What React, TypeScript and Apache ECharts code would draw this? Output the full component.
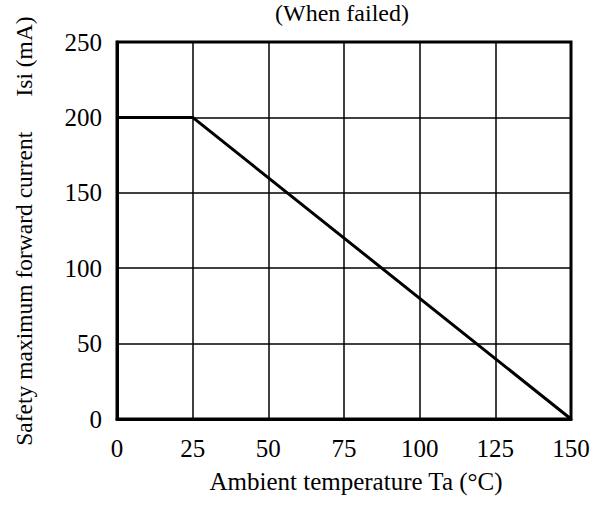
import React, { useEffect, useRef } from "react";
import * as echarts from "echarts";

const temperature: number[] = [0, 25, 150];
const current: number[] = [200, 200, 0];
const xTicks: number[] = [0, 25, 50, 75, 100, 125, 150];
const yTicks: number[] = [0, 50, 100, 150, 200, 250];
const titleText = "(When failed)";
const xName = "Ambient temperature Ta (°C)";
const yName = "Safety maximum forward current      Isi (mA)";

const FONT = "Liberation Serif";

export default function App() {
  const ref = useRef<HTMLDivElement>(null);
  useEffect(() => {
    if (!ref.current) return;
    const chart = echarts.init(ref.current, undefined, { renderer: "svg" });
    chart.setOption({
      animation: false,
      backgroundColor: "#fff",
      textStyle: { fontFamily: FONT },
      grid: {
        left: 117,
        right: 29,
        top: 42,
        bottom: 86,
        show: true,
        borderColor: "#000",
        borderWidth: 3,
        backgroundColor: "transparent",
      },
      graphic: [
        {
          type: "text",
          x: 342,
          y: 13,
          style: {
            text: titleText,
            fontFamily: FONT,
            fontSize: 24,
            fill: "#000",
            textAlign: "center",
            textVerticalAlign: "middle",
          },
        },
        {
          type: "text",
          x: 24,
          y: 231,
          rotation: Math.PI / 2,
          style: {
            text: yName,
            fontFamily: FONT,
            fontSize: 23.5,
            fill: "#000",
            textAlign: "center",
            textVerticalAlign: "middle",
          },
        },
      ],
      xAxis: {
        type: "value",
        min: xTicks[0],
        max: xTicks[xTicks.length - 1],
        interval: 25,
        name: xName,
        nameLocation: "middle",
        nameGap: 50,
        nameTextStyle: {
          fontFamily: FONT,
          fontSize: 25,
          color: "#000",
          padding: [0, 0, 0, 24],
        },
        axisLine: { show: true, lineStyle: { color: "#000", width: 3 } },
        axisTick: { show: false },
        axisLabel: {
          fontFamily: FONT,
          fontSize: 25,
          color: "#000",
          margin: 17,
        },
        splitLine: { show: true, lineStyle: { color: "#000", width: 1.5 } },
      },
      yAxis: {
        type: "value",
        min: yTicks[0],
        max: yTicks[yTicks.length - 1],
        interval: 50,
        axisLine: { show: true, lineStyle: { color: "#000", width: 3 } },
        axisTick: { show: false },
        axisLabel: {
          fontFamily: FONT,
          fontSize: 25,
          color: "#000",
          margin: 15,
          padding: [10, 0, 0, 0],
        },
        splitLine: { show: true, lineStyle: { color: "#000", width: 1.5 } },
      },
      series: [
        {
          type: "line",
          data: temperature.map((t, i) => [t, current[i]]),
          showSymbol: false,
          lineStyle: { color: "#000", width: 3 },
        },
      ],
    });
    return () => chart.dispose();
  }, []);
  return <div ref={ref} style={{ width: 600, height: 505, position: "absolute", left: 0, top: 0 }} />;
}
